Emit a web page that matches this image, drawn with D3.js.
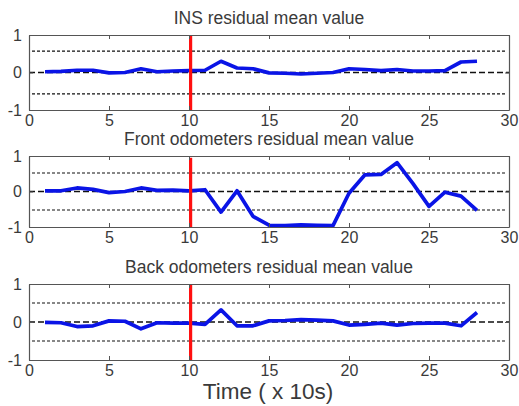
<!DOCTYPE html>
<html>
<head>
<meta charset="utf-8">
<script src="https://cdn.jsdelivr.net/npm/d3@7"></script>
<style>
  body { margin: 0; background: #fff; }
  text { font-family: "Liberation Sans", Arial, sans-serif; fill: #3a3a3a; }
</style>
</head>
<body>
<div id="chart"></div>
<script>
// Data
const time = d3.range(1, 29)
const titles = [
  'INS residual mean value',
  'Front odometers residual mean value',
  'Back odometers residual mean value'
]
const insValues = [0.02, 0.03, 0.06, 0.06, -0.01, 0.0, 0.1, 0.02, 0.04, 0.05,
  0.06, 0.3, 0.12, 0.1, -0.01, -0.02, -0.04, -0.02, 0.0, 0.1,
  0.08, 0.05, 0.08, 0.04, 0.04, 0.05, 0.28, 0.3]
const frontValues = [0.02, 0.02, 0.1, 0.06, -0.03, 0.0, 0.1, 0.03, 0.04, 0.02,
  0.05, -0.58, 0.02, -0.7, -0.95, -0.96, -0.94, -0.95, -0.96, -0.05,
  0.47, 0.48, 0.81, 0.22, -0.42, -0.02, -0.13, -0.53]
const backValues = [-0.01, -0.02, -0.12, -0.1, 0.03, 0.02, -0.18, -0.02, -0.03, -0.03,
  -0.06, 0.32, -0.1, -0.1, 0.03, 0.04, 0.06, 0.05, 0.03, -0.08,
  -0.06, -0.03, -0.08, -0.04, -0.03, -0.03, -0.1, 0.25]
const series = [insValues, frontValues, backValues]
const thresholds = [0.57, 0.52, 0.5]
const faultTime = 10.1
const xTicks = [0, 5, 10, 15, 20, 25, 30]
const yTicks = [-1, 0, 1]

// Dimensions
const width = 519
const height = 406
const panelTops = [35, 156, 284]
const panelHeights = [75, 71, 76]
const left = 29
const right = 509

const svg = d3.select('#chart')
  .append('svg')
  .attr('width', width)
  .attr('height', height)

const xScale = d3.scaleLinear()
  .domain([0, 30])
  .range([left, right])

series.forEach((values, i) => {
  const top = panelTops[i]
  const bottom = top + panelHeights[i]

  const yScale = d3.scaleLinear()
    .domain([-1, 1])
    .range([bottom, top])

  const g = svg.append('g')

  // threshold lines
  const th = thresholds[i]
  ;[th, -th].forEach(t => {
    g.append('line')
      .attr('x1', xScale(0) + 3).attr('x2', xScale(30) - 3)
      .attr('y1', yScale(t)).attr('y2', yScale(t))
      .attr('stroke', '#111')
      .attr('stroke-width', 1.1)
      .attr('stroke-dasharray', '3,2')
  })

  // zero line
  g.append('line')
    .attr('x1', xScale(0)).attr('x2', xScale(30))
    .attr('y1', yScale(0)).attr('y2', yScale(0))
    .attr('stroke', '#111')
    .attr('stroke-width', 1.6)
    .attr('stroke-dasharray', '6,3')

  // residual
  const line = d3.line()
    .x((d, j) => xScale(time[j]))
    .y(d => yScale(d))

  g.append('path')
    .datum(values)
    .attr('d', line)
    .attr('fill', 'none')
    .attr('stroke', '#0a14e6')
    .attr('stroke-width', 3.7)
    .attr('stroke-linejoin', 'round')

  // fault instant
  g.append('line')
    .attr('x1', xScale(faultTime)).attr('x2', xScale(faultTime))
    .attr('y1', yScale(i === 1 ? 0.95 : 1)).attr('y2', yScale(-1))
    .attr('stroke', '#ff1010')
    .attr('stroke-width', 3.2)

  // axes (MATLAB style: ticks inside, box)
  const axB = g.append('g')
    .attr('transform', `translate(0,${bottom})`)
    .call(d3.axisBottom(xScale).tickValues(xTicks).tickSizeInner(-4).tickSizeOuter(0).tickPadding(7))
  const axT = g.append('g')
    .attr('transform', `translate(0,${top})`)
    .call(d3.axisTop(xScale).tickValues(xTicks).tickSizeInner(-4).tickSizeOuter(0).tickFormat(''))
  const axL = g.append('g')
    .attr('transform', `translate(${left},0)`)
    .call(d3.axisLeft(yScale).tickValues(yTicks).tickSizeInner(-4).tickSizeOuter(0).tickPadding(7)
      .tickFormat(d => String(d)))
  const axR = g.append('g')
    .attr('transform', `translate(${right},0)`)
    .call(d3.axisRight(yScale).tickValues(yTicks).tickSizeInner(-4).tickSizeOuter(0).tickFormat(''))

  ;[axB, axT, axL, axR].forEach(a => {
    a.select('.domain').attr('stroke', '#555').attr('stroke-width', 1.2)
    a.selectAll('.tick line').attr('stroke', '#555')
    a.selectAll('text')
      .style('font-size', '16px')
      .attr('fill', '#3a3a3a')
  })
  axB.selectAll('text').attr('dy', '0.55em')

  // title
  g.append('text')
    .attr('x', (left + right) / 2)
    .attr('y', top - 11)
    .attr('text-anchor', 'middle')
    .style('font-size', '17.5px')
    .text(titles[i])
})

// x label
svg.append('text')
  .attr('x', (left + right) / 2 - 1)
  .attr('y', 399)
  .attr('text-anchor', 'middle')
  .style('font-size', '22.5px')
  .text('Time ( x 10s)')
</script>
</body>
</html>
